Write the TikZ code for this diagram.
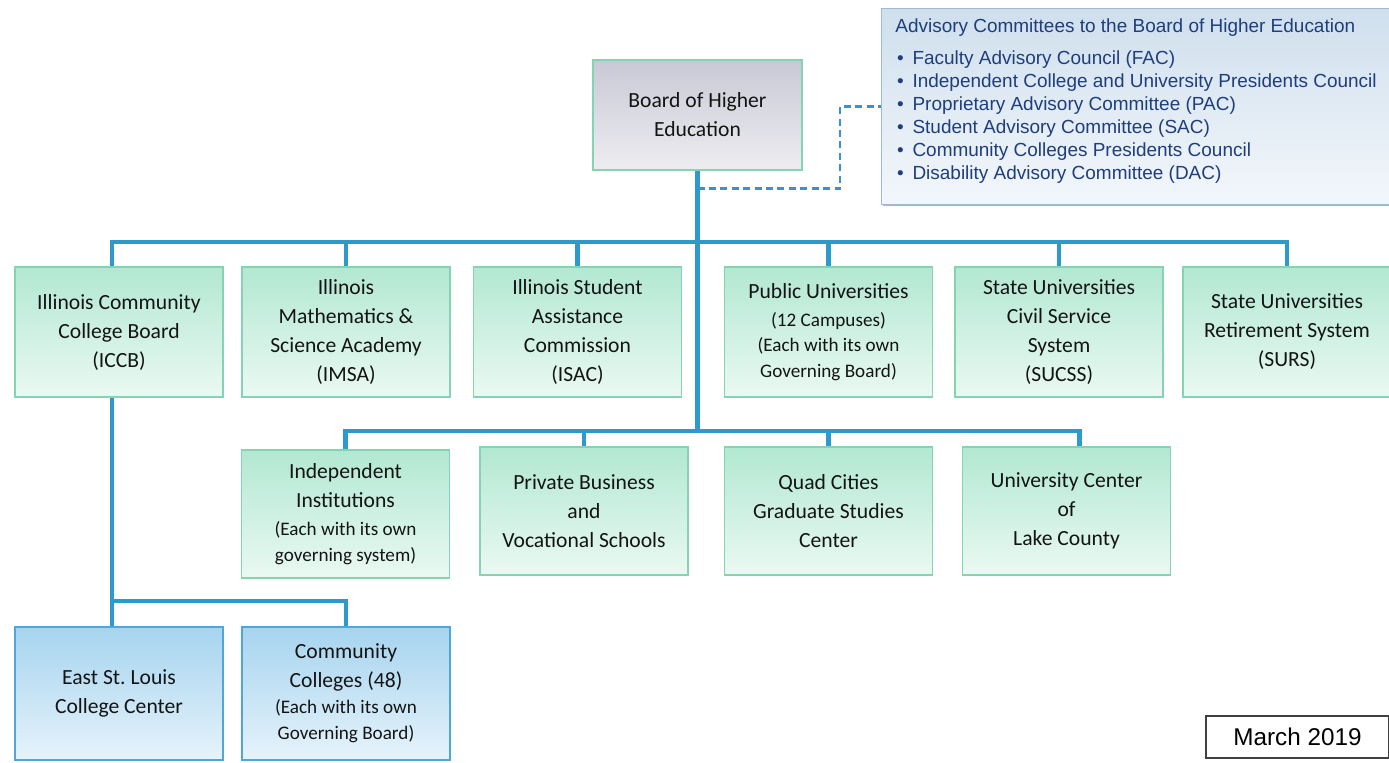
\documentclass[tikz,border=0pt]{standalone}
\usepackage{fontspec}
\setmainfont{Carlito}
\newfontfamily\arialfont{Liberation Sans}
\usetikzlibrary{positioning}
\usetikzlibrary{shadows, calc}
\frenchspacing

\definecolor{mintTop}{HTML}{B2E8D2}
\definecolor{mintBot}{HTML}{EAF9F3}
\definecolor{mintLine}{HTML}{86D3B4}
\definecolor{skyTop}{HTML}{A6D4EF}
\definecolor{skyBot}{HTML}{E6F3FB}
\definecolor{skyLine}{HTML}{4EA7D8}
\definecolor{greyTop}{HTML}{C8C9D5}
\definecolor{greyBot}{HTML}{EDEDF1}
\definecolor{advTop}{HTML}{CFDFED}
\definecolor{advBot}{HTML}{F3F7FB}
\definecolor{advLine}{HTML}{9DBAD6}
\definecolor{advInk}{HTML}{1F3E7C}
\definecolor{busBlue}{HTML}{2C9BCB}
\definecolor{dashBlue}{HTML}{3B8FD2}

\newcommand{\smalltxt}{\fontsize{10.9}{14.2}\selectfont}
\newcommand{\advitem}{\hspace*{1pt}\textbullet\hspace{5pt}}

\begin{document}
\begin{tikzpicture}[x=0.02cm, y=-0.02cm,
    softshadow/.style={drop shadow={shadow xshift=0.5pt, shadow yshift=-0.5pt, opacity=0.3, fill=black}},
    orgbox/.style={draw=mintLine, line width=0.8pt, top color=mintTop, bottom color=mintBot,
        inner sep=0pt, minimum width=4.16cm, minimum height=2.6cm, align=center,
        font=\fontsize{12.3}{16.5}\selectfont, text=black!92, softshadow},
    rowtwo/.style={orgbox, minimum height=2.56cm},
    ccbox/.style={orgbox, draw=skyLine, top color=skyTop, bottom color=skyBot, minimum height=2.66cm},
    boardbox/.style={orgbox, top color=greyTop, bottom color=greyBot, minimum width=4.18cm, minimum height=2.2cm},
    advbox/.style={draw=advLine, line width=0.8pt, top color=advTop, bottom color=advBot,
        inner sep=0pt, minimum width=10.28cm, minimum height=3.92cm, softshadow},
    advtext/.style={inner sep=0pt, align=left, text=advInk, font=\arialfont\fontsize{10.8}{13.1}\selectfont},
    datebox/.style={draw=black!75, line width=0.8pt, fill=white, inner sep=0pt,
        minimum width=3.66cm, minimum height=0.84cm, font=\arialfont\fontsize{13.8}{16}\selectfont},
    bus/.style={busBlue, line width=2.6pt},
    advlink/.style={dashBlue, line width=1.4pt, dash pattern=on 4pt off 2.5pt}
  ]
    \useasboundingbox (0,0) rectangle (1389,762);

    \node[boardbox] (bhe) at (697.5,115) {Board of Higher\\Education};
    \node[advbox, anchor=north west] (adv) at (881,8) {};
    \node[advtext, anchor=north west] (advlist) at ($(adv.north west)+(14,10)$)
        {Advisory Committees to the Board of Higher Education\\[5.5pt]
         \advitem Faculty Advisory Council (FAC)\\
         \advitem Independent College and University Presidents Council\\
         \advitem Proprietary Advisory Committee (PAC)\\
         \advitem Student Advisory Committee (SAC)\\
         \advitem Community Colleges Presidents Council\\
         \advitem Disability Advisory Committee (DAC)};

    \node[orgbox] (iccb) at (119,332) {Illinois Community\\College Board\\(ICCB)};
    \node[orgbox] (imsa) at (346,332) {Illinois\\Mathematics \&\\Science Academy\\(IMSA)};
    \node[orgbox] (isac) at (577.5,332) {Illinois Student\\Assistance\\Commission\\(ISAC)};
    \node[orgbox] (pubu) at (828.5,332) {Public Universities\\[-0.5pt]\smalltxt(12 Campuses)\\[-2.2pt]\smalltxt(Each with its own\\[-2.2pt]\smalltxt Governing Board)};
    \node[orgbox] (sucss) at (1059,332) {State Universities\\Civil Service\\System\\(SUCSS)};
    \node[orgbox] (surs) at (1287,332) {State Universities\\Retirement System\\(SURS)};

    \node[rowtwo] (indep) at (345.5,514) {Independent\\Institutions\\[-0.5pt]\smalltxt(Each with its own\\[-1.8pt]\smalltxt governing system)};
    \node[rowtwo] (pbvs) at (584,511) {Private Business\\and\\Vocational Schools};
    \node[rowtwo] (qcgsc) at (828.5,511) {Quad Cities\\Graduate Studies\\Center};
    \node[rowtwo] (uclc) at (1066.5,511) {University Center\\of\\Lake County};

    \node[ccbox] (eslcc) at (119,693.5) {East St. Louis\\College Center};
    \node[ccbox] (comcol) at (346,693.5) {Community\\Colleges (48)\\[-1.8pt]\smalltxt(Each with its own\\[-1.8pt]\smalltxt Governing Board)};

    \node[datebox] (date) at (1297.5,737) {March 2019};

    \coordinate (busone) at (0,242);
    \coordinate (bustwo) at (0,431);
    \coordinate (busthree) at (0,601);
    \coordinate (iccbtop) at ($(iccb.north)+(-7,0)$);
    \coordinate (iccbfoot) at ($(iccb.south)+(-7,0)$);
    \coordinate (uclctop) at ($(uclc.north)+(13,0)$);

    \draw[advlink] (bhe.south) ++(0,18) -| ($(adv.west)+(-41,0)$) -- (adv.west);

    \draw[bus] (bhe.south) -- (bhe.south |- bustwo);
    \draw[bus] (iccbtop) |- (surs.north |- busone) -- (surs.north);
    \foreach \n in {imsa, isac, pubu, sucss}
        \draw[bus] (\n.north |- busone) -- (\n.north);
    \draw[bus] (indep.north) |- (uclctop |- bustwo) -- (uclctop);
    \foreach \n in {pbvs, qcgsc}
        \draw[bus] (\n.north |- bustwo) -- (\n.north);
    \draw[bus] (iccbfoot) -- (iccbfoot |- eslcc.north);
    \draw[bus] (iccbfoot |- busthree) -| (comcol.north);
\end{tikzpicture}
\end{document}
